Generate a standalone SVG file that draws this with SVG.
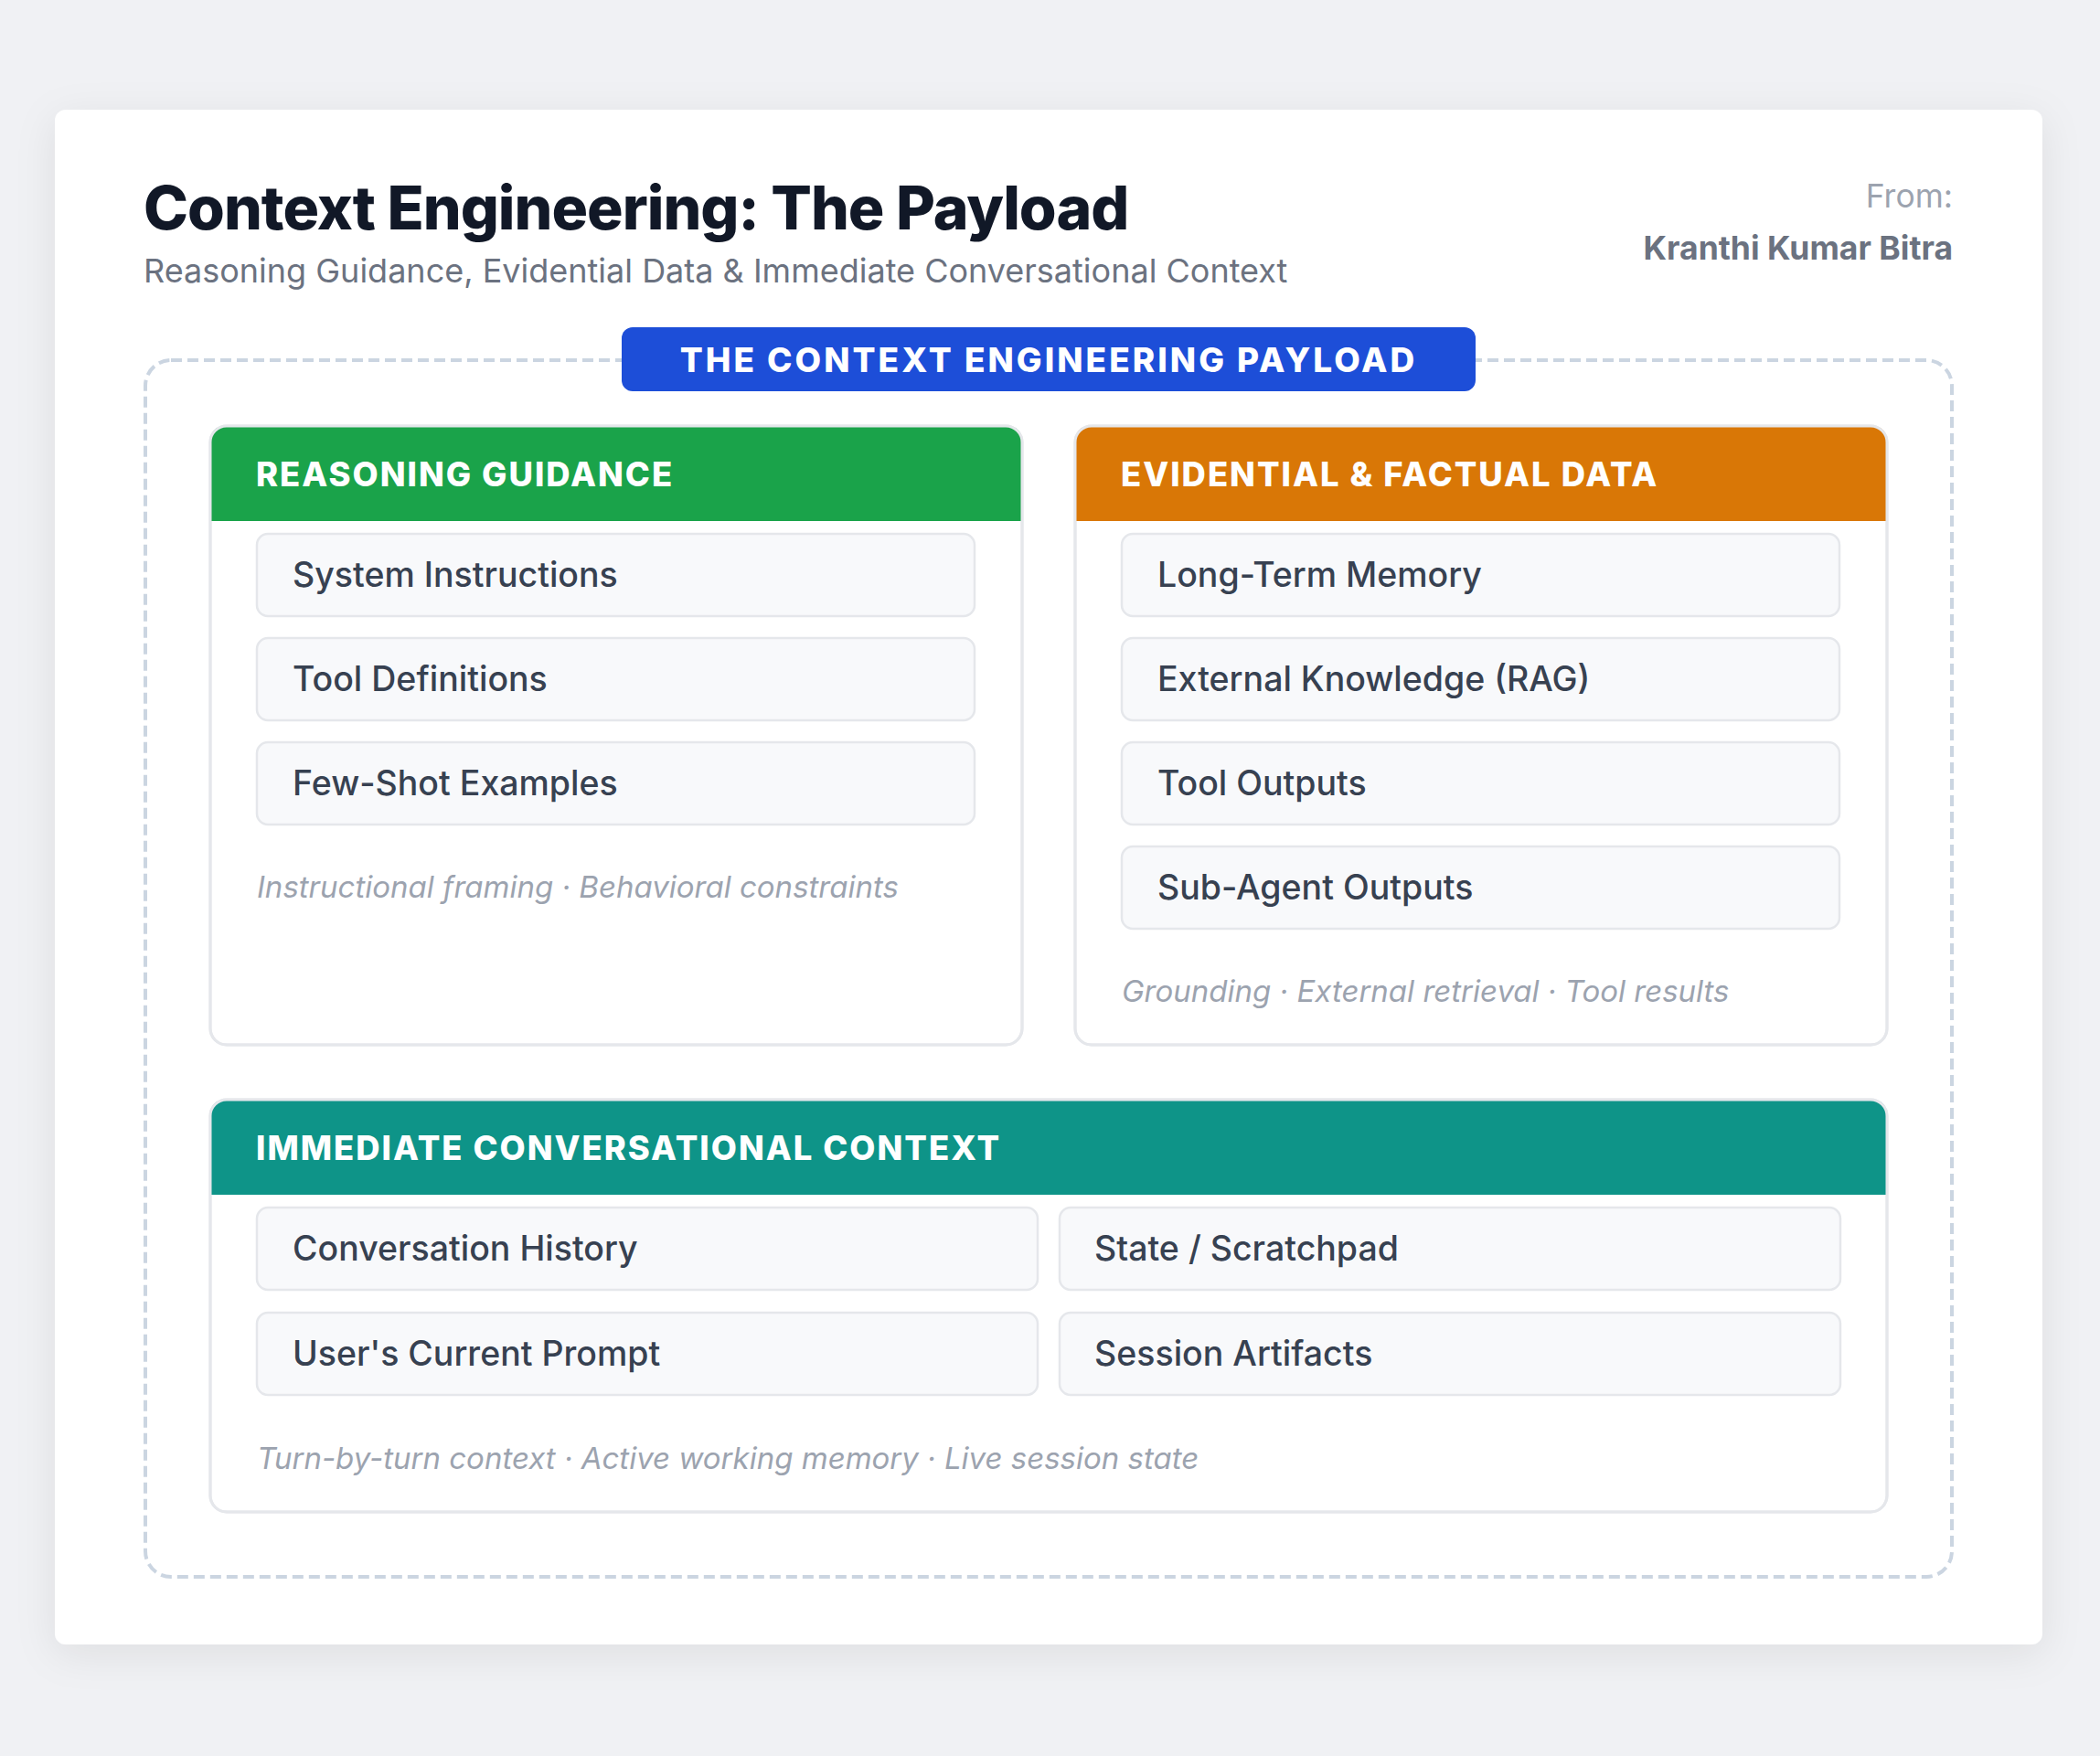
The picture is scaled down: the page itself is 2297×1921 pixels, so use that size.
<svg xmlns="http://www.w3.org/2000/svg" width="2297" height="1921" viewBox="0 0 2297 1921">
<defs>
<filter id="sh" x="-10%" y="-10%" width="120%" height="120%">
<feDropShadow dx="0" dy="10" stdDeviation="22" flood-color="#0f172a" flood-opacity="0.08"/>
</filter>
<style>
.title{font-family:Inter,"Liberation Sans",sans-serif;font-weight:800;font-size:66px;fill:#111827;letter-spacing:-1px}
.sub{font-family:Inter,"Liberation Sans",sans-serif;font-size:36px;fill:#6b7280}
.from{font-family:Inter,"Liberation Sans",sans-serif;font-size:35.5px;fill:#9ca3af}
.author{font-family:Inter,"Liberation Sans",sans-serif;font-size:35.5px;font-weight:700;fill:#6b7280}
.pilltxt{font-family:Inter,"Liberation Sans",sans-serif;font-size:37px;font-weight:800;fill:#ffffff;letter-spacing:3px}
.hdr{font-family:Inter,"Liberation Sans",sans-serif;font-size:36.4px;font-weight:800;fill:#ffffff;letter-spacing:2px}
.box{fill:#ffffff;stroke:#e5e7eb;stroke-width:3}
.boxo{fill:none;stroke:#e5e7eb;stroke-width:3}
.item{fill:#f8f9fb;stroke:#e5e7eb;stroke-width:2.5}
.itxt{font-family:Inter,"Liberation Sans",sans-serif;font-size:37.5px;font-weight:500;fill:#374151}
.cap{font-family:Inter,"Liberation Sans",sans-serif;font-size:33px;font-style:italic;fill:#9ca3af}
</style>
</defs>
<rect x="0" y="0" width="2297" height="1921" fill="#f0f1f4"/>
<rect x="60" y="120" width="2174" height="1679" rx="12" fill="#ffffff" filter="url(#sh)"/>

<g id="header">
<text class="title" x="157" y="251">Context Engineering: The Payload</text>
<text class="sub" x="157" y="309">Reasoning Guidance, Evidential Data &amp; Immediate Conversational Context</text>
<text class="from" x="2136" y="227" text-anchor="end">From:</text>
<text class="author" x="2136" y="284" text-anchor="end">Kranthi Kumar Bitra</text>
</g>

<g id="payload">
<rect x="159" y="394" width="1976" height="1331" rx="28" fill="none" stroke="#cbd5e1" stroke-width="4" stroke-dasharray="12 6"/>
<rect x="680" y="358" width="934" height="70" rx="12" fill="#1d4ed8"/>
<text class="pilltxt" x="1147" y="407" text-anchor="middle">THE CONTEXT ENGINEERING PAYLOAD</text>
</g>

<g id="reasoning">
<rect class="box" x="230" y="466" width="888" height="677" rx="18"/>
<path d="M230,570 V484 Q230,466 248,466 H1100 Q1118,466 1118,484 V570 Z" fill="#1aa34a"/>
<rect class="boxo" x="230" y="466" width="888" height="677" rx="18"/>
<text class="hdr" x="280" y="532">REASONING GUIDANCE</text>
<rect class="item" x="281" y="584" width="785" height="90" rx="12"/>
<text class="itxt" x="320" y="642">System Instructions</text>
<rect class="item" x="281" y="698" width="785" height="90" rx="12"/>
<text class="itxt" x="320" y="756">Tool Definitions</text>
<rect class="item" x="281" y="812" width="785" height="90" rx="12"/>
<text class="itxt" x="320" y="870">Few-Shot Examples</text>
<text class="cap" x="281" y="982">Instructional framing · Behavioral constraints</text>
</g>

<g id="evidential">
<rect class="box" x="1176" y="466" width="888" height="677" rx="18"/>
<path d="M1176,570 V484 Q1176,466 1194,466 H2046 Q2064,466 2064,484 V570 Z" fill="#d97706"/>
<rect class="boxo" x="1176" y="466" width="888" height="677" rx="18"/>
<text class="hdr" x="1226" y="532">EVIDENTIAL &amp; FACTUAL DATA</text>
<rect class="item" x="1227" y="584" width="785" height="90" rx="12"/>
<text class="itxt" x="1266" y="642">Long-Term Memory</text>
<rect class="item" x="1227" y="698" width="785" height="90" rx="12"/>
<text class="itxt" x="1266" y="756">External Knowledge (RAG)</text>
<rect class="item" x="1227" y="812" width="785" height="90" rx="12"/>
<text class="itxt" x="1266" y="870">Tool Outputs</text>
<rect class="item" x="1227" y="926" width="785" height="90" rx="12"/>
<text class="itxt" x="1266" y="984">Sub-Agent Outputs</text>
<text class="cap" x="1227" y="1096">Grounding · External retrieval · Tool results</text>
</g>

<g id="immediate">
<rect class="box" x="230" y="1203" width="1834" height="451" rx="18"/>
<path d="M230,1307 V1221 Q230,1203 248,1203 H2046 Q2064,1203 2064,1221 V1307 Z" fill="#0e9488"/>
<rect class="boxo" x="230" y="1203" width="1834" height="451" rx="18"/>
<text class="hdr" x="280" y="1269">IMMEDIATE CONVERSATIONAL CONTEXT</text>
<rect class="item" x="281" y="1321" width="854" height="90" rx="12"/>
<text class="itxt" x="320" y="1379">Conversation History</text>
<rect class="item" x="1159" y="1321" width="854" height="90" rx="12"/>
<text class="itxt" x="1197" y="1379">State / Scratchpad</text>
<rect class="item" x="281" y="1436" width="854" height="90" rx="12"/>
<text class="itxt" x="320" y="1494">User's Current Prompt</text>
<rect class="item" x="1159" y="1436" width="854" height="90" rx="12"/>
<text class="itxt" x="1197" y="1494">Session Artifacts</text>
<text class="cap" x="281" y="1607">Turn-by-turn context · Active working memory · Live session state</text>
</g>

<g id="connectors"></g>
</svg>
